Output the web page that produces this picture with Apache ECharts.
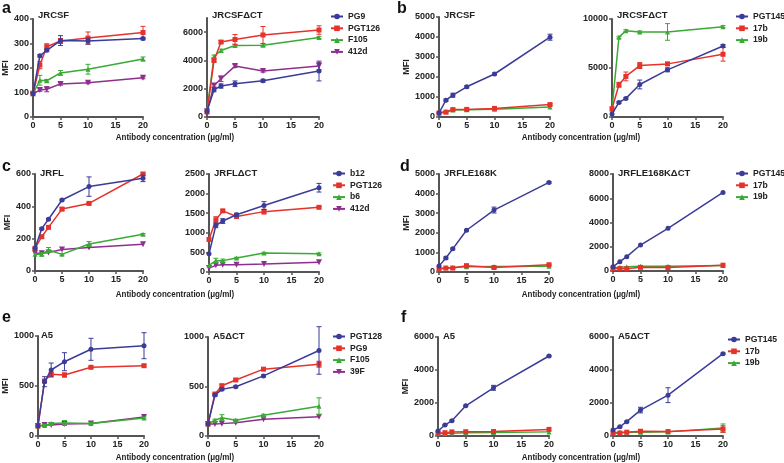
<!DOCTYPE html>
<html><head><meta charset="utf-8">
<script src="https://cdn.jsdelivr.net/npm/echarts@6/dist/echarts.min.js"></script>
<style>html,body{margin:0;padding:0;background:#fff}#c{width:784px;height:463px}</style>
</head><body><div id="c"></div>
<script>
// ---------- DATA ----------
const conc = [0, 1.25, 2.5, 5, 10, 20];
const xTicks = [0, 5, 10, 15, 20];
const xAxisTitle = 'Antibody concentration (μg/ml)';
const yAxisTitle = 'MFI';

// a – JRCSF
const aL_PG9 = [95, 250, 272, 312, 310, 320];        const aL_PG9_err = [0, 5, 5, 20, 12, 5];
const aL_PGT126 = [95, 212, 287, 310, 322, 345];     const aL_PGT126_err = [0, 15, 12, 10, 25, 25];
const aL_F105 = [95, 150, 148, 180, 195, 237];       const aL_F105_err = [0, 20, 5, 10, 20, 8];
const aL_412d = [95, 110, 113, 135, 140, 160];       const aL_412d_err = [0, 5, 10, 5, 4, 4];
// a – JRCSFΔCT
const aR_PG9 = [400, 1930, 2190, 2350, 2565, 3250];  const aR_PG9_err = [0, 150, 150, 200, 100, 700];
const aR_PGT126 = [350, 4000, 5300, 5480, 5800, 6150]; const aR_PGT126_err = [0, 100, 100, 350, 600, 300];
const aR_F105 = [400, 4280, 4700, 5050, 5080, 5620]; const aR_F105_err = [0, 100, 100, 100, 100, 80];
const aR_412d = [400, 2230, 2700, 3600, 3250, 3600]; const aR_412d_err = [0, 100, 200, 100, 80, 250];
// b – JRCSF
const bL_PGT145 = [200, 840, 1090, 1510, 2150, 3990]; const bL_PGT145_err = [0, 60, 100, 60, 50, 150];
const bL_17b = [200, 240, 370, 380, 430, 620];        const bL_17b_err = [0, 30, 40, 40, 40, 40];
const bL_19b = [200, 290, 350, 360, 390, 500];        const bL_19b_err = [0, 0, 0, 0, 0, 0];
// b – JRCSFΔCT
const bR_PGT145 = [300, 1490, 1900, 3320, 4810, 7250]; const bR_PGT145_err = [0, 100, 100, 450, 200, 150];
const bR_17b = [850, 3290, 4140, 5250, 5420, 6400];    const bR_17b_err = [0, 250, 450, 300, 150, 700];
const bR_19b = [800, 8140, 8810, 8680, 8680, 9220];    const bR_19b_err = [0, 100, 100, 100, 850, 100];
// c – JRFL
const cL_b12 = [140, 262, 320, 439, 522, 573];       const cL_b12_err = [0, 5, 5, 5, 60, 20];
const cL_PGT126 = [140, 212, 270, 383, 418, 600];    const cL_PGT126_err = [0, 8, 8, 10, 5, 8];
const cL_b6 = [103, 103, 130, 103, 167, 227];        const cL_b6_err = [0, 10, 15, 5, 15, 5];
const cL_412d = [110, 110, 115, 133, 145, 165];      const cL_412d_err = [0, 0, 0, 0, 0, 0];
// c – JRFLΔCT
const cR_b12 = [466, 1190, 1300, 1460, 1695, 2150];  const cR_b12_err = [0, 60, 60, 40, 100, 110];
const cR_PGT126 = [830, 1330, 1560, 1415, 1540, 1650]; const cR_PGT126_err = [0, 80, 30, 50, 60, 20];
const cR_b6 = [170, 290, 290, 356, 483, 466];        const cR_b6_err = [0, 60, 40, 20, 20, 20];
const cR_412d = [100, 170, 186, 186, 203, 246];      const cR_412d_err = [0, 0, 0, 0, 0, 0];
// d – JRFLE168K
const dL_PGT145 = [300, 717, 1180, 2130, 3160, 4570]; const dL_PGT145_err = [0, 50, 40, 40, 150, 40];
const dL_17b = [150, 200, 200, 320, 230, 370];        const dL_17b_err = [0, 20, 20, 80, 40, 30];
const dL_19b = [150, 220, 230, 270, 280, 290];        const dL_19b_err = [0, 0, 0, 0, 0, 0];
// d – JRFLE168KΔCT
const dR_PGT145 = [360, 770, 1180, 2140, 3520, 6480]; const dR_PGT145_err = [0, 0, 0, 0, 0, 0];
const dR_17b = [200, 200, 180, 300, 280, 480];        const dR_17b_err = [0, 0, 0, 100, 0, 0];
const dR_19b = [250, 300, 350, 400, 400, 450];        const dR_19b_err = [0, 0, 0, 0, 0, 0];
// e – A5
const eL_PGT128 = [100, 543, 660, 743, 867, 903];    const eL_PGT128_err = [0, 50, 70, 90, 110, 130];
const eL_PG9 = [100, 550, 617, 610, 687, 703];       const eL_PG9_err = [0, 10, 15, 20, 10, 10];
const eL_F105 = [100, 105, 125, 130, 125, 180];      const eL_F105_err = [0, 10, 10, 25, 10, 10];
const eL_39F = [100, 110, 110, 120, 125, 190];       const eL_39F_err = [0, 0, 0, 0, 0, 0];
// e – A5ΔCT
const eR_PGT128 = [120, 413, 471, 498, 607, 864];    const eR_PGT128_err = [0, 10, 10, 10, 10, 240];
const eR_PG9 = [120, 424, 508, 566, 675, 725];       const eR_PG9_err = [0, 10, 15, 10, 10, 30];
const eR_F105 = [120, 160, 185, 160, 210, 300];      const eR_F105_err = [0, 10, 30, 10, 10, 85];
const eR_39F = [120, 120, 125, 135, 170, 195];       const eR_39F_err = [0, 0, 0, 0, 0, 0];
// f – A5
const fL_PGT145 = [300, 664, 925, 1830, 2920, 4850]; const fL_PGT145_err = [0, 30, 30, 30, 150, 40];
const fL_17b = [170, 200, 250, 260, 270, 400];       const fL_17b_err = [0, 0, 0, 0, 0, 0];
const fL_19b = [150, 150, 170, 200, 210, 250];       const fL_19b_err = [0, 0, 0, 0, 0, 0];
// f – A5ΔCT
const fR_PGT145 = [360, 560, 870, 1570, 2475, 4990]; const fR_PGT145_err = [0, 30, 30, 170, 450, 40];
const fR_17b = [170, 180, 230, 290, 270, 420];       const fR_17b_err = [0, 0, 0, 0, 0, 200];
const fR_19b = [200, 230, 230, 220, 250, 480];       const fR_19b_err = [0, 0, 0, 0, 0, 250];

// y tick labels per subplot
const aL_ticks = [0, 100, 200, 300, 400];
const aR_ticks = [0, 2000, 4000, 6000];
const bL_ticks = [0, 1000, 2000, 3000, 4000, 5000];
const bR_ticks = [0, 5000, 10000];
const cL_ticks = [0, 200, 400, 600];
const cR_ticks = [0, 500, 1000, 1500, 2000, 2500];
const dL_ticks = [0, 1000, 2000, 3000, 4000, 5000];
const dR_ticks = [0, 2000, 4000, 6000, 8000];
const eL_ticks = [0, 500, 1000];
const eR_ticks = [0, 500, 1000];
const fL_ticks = [0, 2000, 4000, 6000];
const fR_ticks = [0, 2000, 4000, 6000];

// ---------- STYLE / LAYOUT ----------
const FONT = "'Liberation Sans', Arial, sans-serif";
const COLORS = ['#3b3b98', '#e5322b', '#3ba936', '#8e2f8e'];
const SYMBOLS = ['circle', 'rect', 'triangle', 'path://M0,0L10,0L5,9Z'];
const AX = '#555';

const panels = [
  {title:'JRCSF', box:[33,19,143,117], yMax:400, ticks:aL_ticks, mfi:22,
   s:[['PG9',aL_PG9,aL_PG9_err],['PGT126',aL_PGT126,aL_PGT126_err],['F105',aL_F105,aL_F105_err],['412d',aL_412d,aL_412d_err]]},
  {title:'JRCSFΔCT', box:[207,18,319,117], yMax:7000, ticks:aR_ticks,
   s:[['PG9',aR_PG9,aR_PG9_err],['PGT126',aR_PGT126,aR_PGT126_err],['F105',aR_F105,aR_F105_err],['412d',aR_412d,aR_412d_err]],
   legend:{left:330, top:12}},
  {title:'JRCSF', box:[439,17,550,117], yMax:5000, ticks:bL_ticks, mfi:27,
   s:[['PGT145',bL_PGT145,bL_PGT145_err],['17b',bL_17b,bL_17b_err],['19b',bL_19b,bL_19b_err]]},
  {title:'JRCSFΔCT', box:[612,19,723,117], yMax:10000, ticks:bR_ticks,
   s:[['PGT145',bR_PGT145,bR_PGT145_err],['17b',bR_17b,bR_17b_err],['19b',bR_19b,bR_19b_err]],
   legend:{left:735, top:12}},
  {title:'JRFL', box:[35,174,143,271], yMax:600, ticks:cL_ticks, mfi:23,
   s:[['b12',cL_b12,cL_b12_err],['PGT126',cL_PGT126,cL_PGT126_err],['b6',cL_b6,cL_b6_err],['412d',cL_412d,cL_412d_err]]},
  {title:'JRFLΔCT', box:[209,174,319,272], yMax:2500, ticks:cR_ticks,
   s:[['b12',cR_b12,cR_b12_err],['PGT126',cR_PGT126,cR_PGT126_err],['b6',cR_b6,cR_b6_err],['412d',cR_412d,cR_412d_err]],
   legend:{left:332, top:169}},
  {title:'JRFLE168K', box:[439,174,549,272], yMax:5000, ticks:dL_ticks, mfi:27,
   s:[['PGT145',dL_PGT145,dL_PGT145_err],['17b',dL_17b,dL_17b_err],['19b',dL_19b,dL_19b_err]]},
  {title:'JRFLE168KΔCT', box:[613,174,723,271], yMax:8000, ticks:dR_ticks,
   s:[['PGT145',dR_PGT145,dR_PGT145_err],['17b',dR_17b,dR_17b_err],['19b',dR_19b,dR_19b_err]],
   legend:{left:735, top:169}},
  {title:'A5', box:[36,336,144,436], yMax:1000, ticks:eL_ticks, mfi:25,
   s:[['PGT128',eL_PGT128,eL_PGT128_err],['PG9',eL_PG9,eL_PG9_err],['F105',eL_F105,eL_F105_err],['39F',eL_39F,eL_39F_err]]},
  {title:'A5ΔCT', box:[208,337,319,436], yMax:1000, ticks:eR_ticks,
   s:[['PGT128',eR_PGT128,eR_PGT128_err],['PG9',eR_PG9,eR_PG9_err],['F105',eR_F105,eR_F105_err],['39F',eR_39F,eR_39F_err]],
   legend:{left:332, top:332}},
  {title:'A5', box:[438,337,549,436], yMax:6000, ticks:fL_ticks, mfi:27,
   s:[['PGT145',fL_PGT145,fL_PGT145_err],['17b',fL_17b,fL_17b_err],['19b',fL_19b,fL_19b_err]]},
  {title:'A5ΔCT', box:[613,337,723,436], yMax:6000, ticks:fR_ticks,
   s:[['PGT145',fR_PGT145,fR_PGT145_err],['17b',fR_17b,fR_17b_err],['19b',fR_19b,fR_19b_err]],
   legend:{left:727, top:335}}
];

const letters = [['a',2,1],['b',397,1],['c',2,159],['d',400,159],['e',2,310],['f',401,310]];
const xTitles = [[175,137],[581,137],[175,294],[581,294],[175,457],[581,457]];

const option = {animation:false, backgroundColor:'#fff', grid:[], xAxis:[], yAxis:[], series:[], legend:[], graphic:[]};

function errRender(color){
  return function(params, api){
    const x = api.value(0), y = api.value(1), e = api.value(2);
    if (!e) return null;
    const p1 = api.coord([x, y + e]), p2 = api.coord([x, y - e]);
    const w = 2.5, st = {stroke: color, lineWidth: 1};
    return {type:'group', children:[
      {type:'line', shape:{x1:p1[0], y1:p1[1], x2:p2[0], y2:p2[1]}, style:st},
      {type:'line', shape:{x1:p1[0]-w, y1:p1[1], x2:p1[0]+w, y2:p1[1]}, style:st},
      {type:'line', shape:{x1:p2[0]-w, y1:p2[1], x2:p2[0]+w, y2:p2[1]}, style:st}
    ]};
  };
}

panels.forEach((p, i) => {
  const [l, t, r, b] = p.box;
  option.grid.push({left:l, top:t, width:r-l, height:b-t});
  const lbl = {fontSize:9, fontWeight:'bold', color:'#222', fontFamily:FONT, formatter: v => String(v)};
  option.xAxis.push({gridIndex:i, type:'value', min:0, max:20, interval:5,
    axisLine:{lineStyle:{color:AX, width:2}},
    axisTick:{length:3, lineStyle:{color:AX, width:1.5}, customValues:xTicks},
    axisLabel:Object.assign({margin:4, customValues:xTicks}, lbl),
    splitLine:{show:false}});
  const y = {gridIndex:i, type:'value', min:0, max:p.yMax,
    axisLine:{show:true, lineStyle:{color:AX, width:2}},
    axisTick:{show:true, length:3, lineStyle:{color:AX, width:1.5}, customValues:p.ticks},
    axisLabel:Object.assign({margin:4, customValues:p.ticks}, lbl),
    splitLine:{show:false}};
  if (p.mfi) Object.assign(y, {name:yAxisTitle, nameLocation:'middle', nameGap:p.mfi, nameRotate:90,
    nameTextStyle:{fontSize:9, fontWeight:'bold', color:'#222', fontFamily:FONT}});
  option.yAxis.push(y);
  const names = [];
  p.s.forEach((s, k) => {
    const nm = s[0] + '#' + i;
    names.push(nm);
    option.series.push({type:'line', name:nm, xAxisIndex:i, yAxisIndex:i,
      data: conc.map((x, j) => [x, s[1][j]]),
      symbol:SYMBOLS[k], symbolSize:k===3?6:5, showSymbol:true,
      lineStyle:{color:COLORS[k], width:1.5}, itemStyle:{color:COLORS[k]}, z:10-k});
    option.series.push({type:'custom', xAxisIndex:i, yAxisIndex:i,
      data: conc.map((x, j) => [x, s[1][j], s[2][j]]),
      encode:{x:0, y:1}, renderItem:errRender(COLORS[k]), z:10-k});
  });
  option.graphic.push({type:'text', left:l+5, top:(t < 30 ? 10 : t-6),
    style:{text:p.title, fontSize:9.5, fontWeight:'bold', fill:'#222', fontFamily:FONT}});
  if (p.legend) {
    option.legend.push({orient:'vertical', left:p.legend.left, top:p.legend.top, padding:0,
      itemWidth:12, itemHeight:7, itemGap:2.8, selectedMode:false, data:names,
      formatter: n => n.split('#')[0],
      textStyle:{fontSize:8.6, fontWeight:'bold', color:'#222', fontFamily:FONT}});
  }
});

letters.forEach(([t, x, y]) => option.graphic.push({type:'text', left:x, top:y,
  style:{text:t, fontSize:16, fontWeight:'bold', fill:'#111', fontFamily:FONT}}));
xTitles.forEach(([cx, cy]) => option.graphic.push({type:'text', x:cx, y:cy, scaleX:0.84,
  style:{text:xAxisTitle, fontSize:9.5, fontWeight:'bold', fill:'#222', fontFamily:FONT, align:'center', verticalAlign:'middle'}}));

echarts.init(document.getElementById('c'), null, {renderer:'canvas'}).setOption(option);
</script>
</body></html>
